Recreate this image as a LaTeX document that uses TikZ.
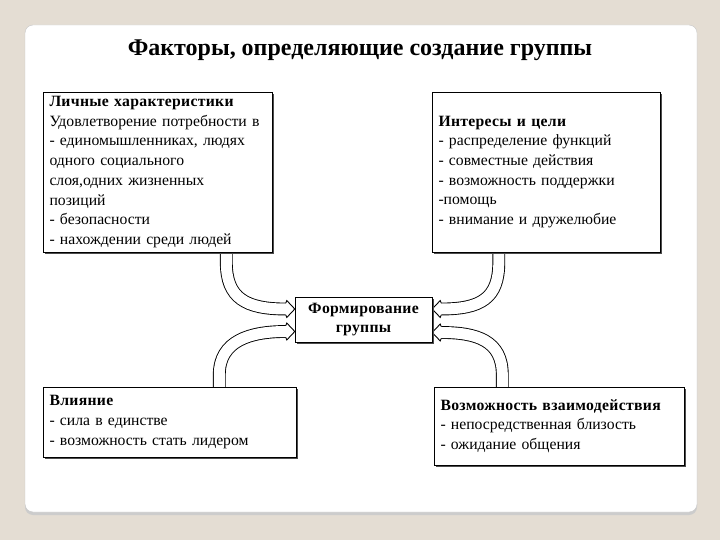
\documentclass[tikz,border=0pt]{standalone}
\usepackage{fontspec}
\setmainfont{Liberation Serif}
\usetikzlibrary{calc,shadows}
\definecolor{bgbeige}{HTML}{E4DDD3}
\newcommand{\hd}[1]{{\bfseries\addfontfeature{LetterSpace=2}#1}}
\begin{document}
\begin{tikzpicture}[x=1pt,y=-1pt,
  box/.style={draw=black, line width=0.7pt, fill=white, align=left,
    inner xsep=6.5pt, inner ysep=0pt, anchor=center,
    font=\fontsize{15.7}{19.7}\selectfont,
    drop shadow={shadow xshift=1.6pt,shadow yshift=-1.6pt,fill=black!70,opacity=1}},
  hollowband/.style={line width=0.9pt, double=white, double distance=11pt},
  headst/.style={fill=white, line width=0.9pt, line join=miter}
]
\useasboundingbox (0,0) rectangle (720,540);
\fill[bgbeige] (0,0) rectangle (720,540);
\fill[gray!40, rounded corners=8pt] (25,27) rectangle (697,515);
\draw[draw=gray!45, fill=white, rounded corners=8pt] (25,25) rectangle (697,512);

\node[font=\bfseries\fontsize{24}{28}\selectfont] (title) at (360,50) {Факторы, определяющие создание группы};

% placement points
\coordinate (ptl) at (157.5,172);
\coordinate (ptr) at (546,172);
\coordinate (pc) at (363.5,319.5);
\coordinate (pbl) at (169.5,422);
\coordinate (pbr) at (559,426);

% frames giving the anchors of the arrows
\node[minimum width=229pt, minimum height=160pt, inner sep=0pt] (tl) at (ptl) {};
\node[minimum width=228pt, minimum height=160pt, inner sep=0pt] (tr) at (ptr) {};
\node[minimum width=137pt, minimum height=45pt, inner sep=0pt] (c) at (pc) {};
\node[minimum width=253pt, minimum height=70pt, inner sep=0pt] (bl) at (pbl) {};
\node[minimum width=250pt, minimum height=78pt, inner sep=0pt] (br) at (pbr) {};

% arrows
\draw[hollowband] ([xshift=183.5pt]tl.south west) -- ++(0,10) .. controls +(0,36) and +(-40,0) .. ([xshift=-9pt,yshift=10.5pt]c.west);
\filldraw[headst] ([yshift=10.5pt]c.west) ++(-9,-5.95) -- ++(1,-2.5) -- ([yshift=10.5pt]c.west) -- ++(-8,8.45) -- ++(-1,-2.5);

\draw[hollowband] ([xshift=176.5pt]bl.north west) -- ++(0,-12) .. controls +(0,-34) and +(-36,0) .. ([xshift=-9pt,yshift=-12pt]c.west);
\filldraw[headst] ([yshift=-12pt]c.west) ++(-9,-5.95) -- ++(1,-2.5) -- ([yshift=-12pt]c.west) -- ++(-8,8.45) -- ++(-1,-2.5);

\draw[hollowband] ([xshift=67pt]tr.south west) -- ++(0,10) .. controls +(0,36) and +(40,0) .. ([xshift=9pt,yshift=10.5pt]c.east);
\filldraw[headst] ([yshift=10.5pt]c.east) ++(9,-5.95) -- ++(-1,-2.5) -- ([yshift=10.5pt]c.east) -- ++(8,8.45) -- ++(1,-2.5);

\draw[hollowband] ([xshift=68.5pt]br.north west) -- ++(0,-12) .. controls +(0,-34) and +(36,0) .. ([xshift=9pt,yshift=-13pt]c.east);
\filldraw[headst] ([yshift=-13pt]c.east) ++(9,-5.95) -- ++(-1,-2.5) -- ([yshift=-13pt]c.east) -- ++(8,8.45) -- ++(1,-2.5);

% boxes with text
\node[box, text width=216pt, minimum height=160pt] (tlbox) at (ptl) {\hd{Личные характеристики}\\
Удовлетворение потребности в\\
- единомышленниках, людях\\
одного социального\\
слоя,одних жизненных\\
позиций\\
- безопасности\\
- нахождении среди людей};

\node[box, text width=215pt, minimum height=160pt] (trbox) at (ptr) {\hd{Интересы и цели}\\
- распределение функций\\
- совместные действия\\
- возможность поддержки\\
-помощь\\
- внимание и дружелюбие};

\node[box, text width=124pt, minimum height=45pt, align=center] (cbox) at (pc) {\hd{Формирование}\\\hd{группы}};

\node[box, text width=240pt, minimum height=70pt] (blbox) at (pbl) {\hd{Влияние}\\
- сила в единстве\\
- возможность стать лидером};

\node[box, text width=237pt, minimum height=78pt] (brbox) at (pbr) {\hd{Возможность взаимодействия}\\
- непосредственная близость\\
- ожидание общения};
\end{tikzpicture}
\end{document}
